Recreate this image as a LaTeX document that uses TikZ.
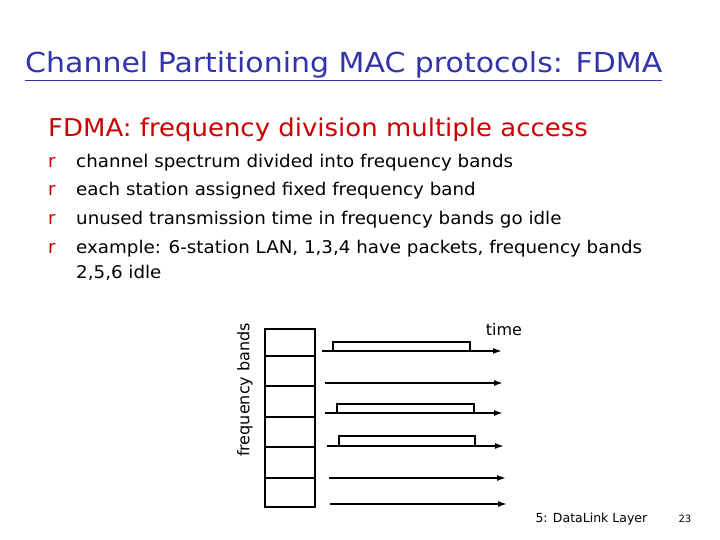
\documentclass[tikz,border=0pt]{standalone}
\usepackage{fontspec}
\setmainfont{DejaVu Sans}
\usetikzlibrary{arrows.meta}
\begin{document}
\begin{tikzpicture}[x=1pt,y=-1pt,
  ln/.style={line width=1.6pt},
  arr/.style={line width=1.6pt,-{Latex[length=9pt,width=6pt]}},
  bul/.style={anchor=base west,font=\fontsize{18}{22}\selectfont},
  txt/.style={anchor=base west,xscale=1.044,font=\fontsize{17.5}{22}\selectfont}]
\useasboundingbox[fill=white] (0,0) rectangle (720,540);
\definecolor{tblue}{RGB}{51,51,170}
\definecolor{tred}{RGB}{204,0,0}
\node[anchor=base west,xscale=1.09,text=tblue,font=\fontsize{27.5}{34}\selectfont,inner sep=0] (title) at (25,73) {\underline{Channel Partitioning MAC protocols: FDMA}};
\node[anchor=base west,xscale=1.06,text=tred,font=\fontsize{24.5}{30}\selectfont,inner sep=0] (sub) at (48,137) {FDMA: frequency division multiple access};
\foreach \y/\t [count=\i] in {168/channel spectrum divided into frequency bands,196/each station assigned fixed frequency band,225/unused transmission time in frequency bands go idle,254/{example: 6-station LAN, 1,3,4 have packets, frequency bands}}{
  \node[bul,text=tred,inner sep=0] (b\i) at (48,\y) {r};
  \node[txt,inner sep=0] (t\i) at (76,\y) {\t};
}
\node[txt,inner sep=0] (t5) at (76,278) {2,5,6 idle};
\node[rotate=90,font=\fontsize{16}{20}\selectfont] (fb) at (245,390) {frequency bands};
\node[font=\fontsize{16}{20}\selectfont] (time) at (504,330) {time};
\draw[ln] (265,329) rectangle (315,507);
\foreach \y in {356,386,417,447,478} \draw[ln] (265,\y) -- (315,\y);
\coordinate (s1) at (322,351); \coordinate (e1) at (502,351);
\coordinate (s2) at (325,383); \coordinate (e2) at (503,383);
\coordinate (s3) at (325,413); \coordinate (e3) at (503,413);
\coordinate (s4) at (327,446); \coordinate (e4) at (504,446);
\coordinate (s5) at (329,478); \coordinate (e5) at (506,478);
\coordinate (s6) at (330,504); \coordinate (e6) at (507,504);
\foreach \i in {1,...,6} \draw[arr] (s\i) -- (e\i);
\draw[ln] (333,351) rectangle (470,342);
\draw[ln] (337,413) rectangle (474,404);
\draw[ln] (339,446) rectangle (475,436);
\node[anchor=base west,font=\fontsize{12.5}{15}\selectfont] (foot) at (532,522) {5: DataLink Layer};
\node[anchor=base west,font=\fontsize{10}{13}\selectfont] (pg) at (675,522) {23};
\end{tikzpicture}
\end{document}
